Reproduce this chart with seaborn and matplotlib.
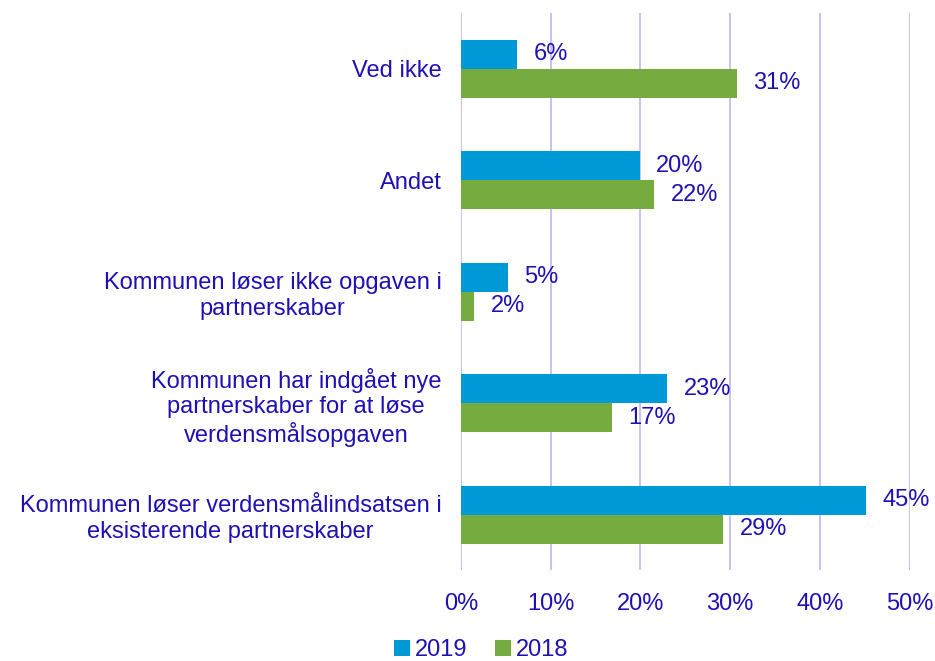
import matplotlib
matplotlib.use("Agg")
import matplotlib.pyplot as plt
import pandas as pd
import seaborn as sns

categories = ["Ved ikke",
              "Andet",
              "Kommunen løser ikke opgaven i\npartnerskaber",
              "Kommunen har indgået nye\npartnerskaber for at løse\nverdensmålsopgaven",
              "Kommunen løser verdensmålindsatsen i\neksisterende partnerskaber"]
years = ["2019", "2018"]
vals_2019 = [6.2, 19.9, 5.2, 23.0, 45.1]
vals_2018 = [30.7, 21.5, 1.5, 16.8, 29.2]
colors = ["#0099D8", "#76AB3F"]

txt = "#1E10B4"
grid_col = "#C4BDF5"
fs = 17

df = pd.DataFrame({
    "kategori": categories * 2,
    "aar": [years[0]] * 5 + [years[1]] * 5,
    "pct": vals_2019 + vals_2018,
})

sns.set_style("white")
plt.rcParams['font.family'] = ['Liberation Sans', 'DejaVu Sans']

fig = plt.figure(figsize=(9.35, 6.61), dpi=100)
ax = fig.add_axes([0.493, 0.137, 0.480, 0.843])

sns.barplot(data=df, y="kategori", x="pct", hue="aar", orient="h",
            palette=colors, width=0.52, saturation=1, ax=ax, order=categories,
            linewidth=0)

# labels to the right of each bar
for c in ax.containers:
    ax.bar_label(c, labels=[f"{v:.0f}%" for v in c.datavalues], padding=12,
                 fontsize=fs, color=txt)

ax.set_xlim(0, 50)
ax.set_xticks(range(0, 51, 10))
ax.set_xticklabels([f"{t}%" for t in range(0, 51, 10)])
ax.set_xlabel("")
ax.set_ylabel("")
ax.grid(axis="x", color=grid_col, linewidth=1.3)
ax.set_axisbelow(True)
for s in ax.spines.values():
    s.set_visible(False)
ax.tick_params(axis="x", length=0, pad=16, labelsize=fs, labelcolor=txt)
ax.tick_params(axis="y", length=0, pad=14, labelsize=fs, labelcolor=txt)
for lbl in ax.get_yticklabels():
    lbl.set_multialignment("center")

ax.legend(loc="center", bbox_to_anchor=(0.045, -0.143), ncol=2, frameon=False,
          fontsize=fs, labelcolor=txt, handlelength=0.65, handleheight=0.65,
          handletextpad=0.2, columnspacing=1.2, borderpad=0.2)

fig.savefig("out.png", dpi=100)
